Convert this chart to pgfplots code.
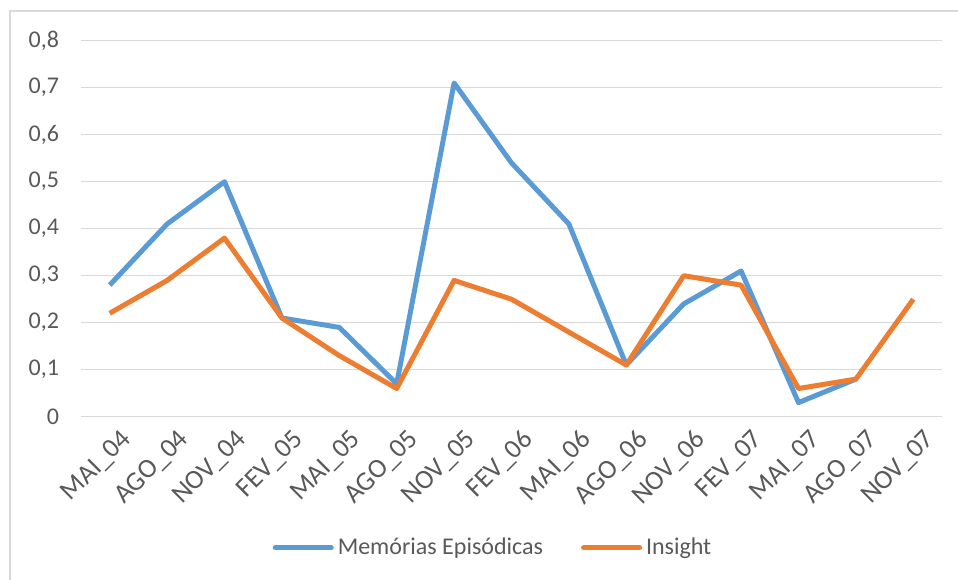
\documentclass[border=0pt]{standalone}
\usepackage{pgfplots}
\pgfplotsset{compat=1.18}
\usepackage{fontspec}
\setmainfont{Carlito}
\definecolor{serA}{HTML}{5B9BD5}
\definecolor{serB}{HTML}{ED7D31}
\definecolor{gridc}{HTML}{D9D9D9}
\definecolor{txt}{HTML}{595959}
\begin{document}
\begin{tikzpicture}
\useasboundingbox (0,0) rectangle (479bp,-290bp);
\draw[gridc, line width=0.8bp] (5bp,-290bp) -- (5bp,-5.5bp) -- (479bp,-5.5bp);
\begin{axis}[
  at={(40.5bp,-208.35bp)}, anchor=south west,
  scale only axis, width=430.5bp, height=188bp,
  xmin=-0.5, xmax=14.5, ymin=0, ymax=0.8,
  axis line style={draw=none},
  major tick length=0pt,
  xtick={0,...,14},
  xticklabels={MAI\_04,AGO\_04,NOV\_04,FEV\_05,MAI\_05,AGO\_05,NOV\_05,FEV\_06,MAI\_06,AGO\_06,NOV\_06,FEV\_07,MAI\_07,AGO\_07,NOV\_07},
  ytick={0,0.1,...,0.8},
  ymajorgrids, grid style={gridc, line width=0.75bp},
  /pgf/number format/assume math mode=true,
  /pgf/number format/use comma,
  /pgf/number format/fixed,
  yticklabel style={anchor=east, xshift=-7.5bp, font=\fontsize{12bp}{14bp}\selectfont, text=txt},
  xticklabel style={rotate=45, anchor=north east, xshift=3bp, yshift=-4bp, font=\fontsize{13.5bp}{15bp}\selectfont, text=txt},
  legend style={at={(axis description cs:0.4797,-0.349)}, anchor=center, draw=none, fill=none,
    legend columns=2, font=\fontsize{12bp}{14bp}\selectfont, text=txt,
    /tikz/every even column/.append style={column sep=17bp},
    legend cell align=left, inner sep=0pt},
  legend image code/.code={\draw[#1, line width=2.5bp, line cap=round] (0bp,0bp) -- (28bp,0bp);},
  clip=false,
]
\addplot[serA, line width=2.5bp, line join=round] coordinates {
(0,0.28) (1,0.41) (2,0.50) (3,0.21) (4,0.19) (5,0.07) (6,0.71) (7,0.54) (8,0.41) (9,0.11) (10,0.24) (11,0.31) (12,0.03) (13,0.08)};
\addlegendentry{Memórias Episódicas}
\addplot[serB, line width=2.5bp, line join=round] coordinates {
(0,0.22) (1,0.29) (2,0.38) (3,0.21) (4,0.13) (5,0.06) (6,0.29) (7,0.25) (8,0.18) (9,0.11) (10,0.30) (11,0.28) (12,0.06) (13,0.08) (14,0.25)};
\addlegendentry{Insight}
\end{axis}
\end{tikzpicture}
\end{document}
